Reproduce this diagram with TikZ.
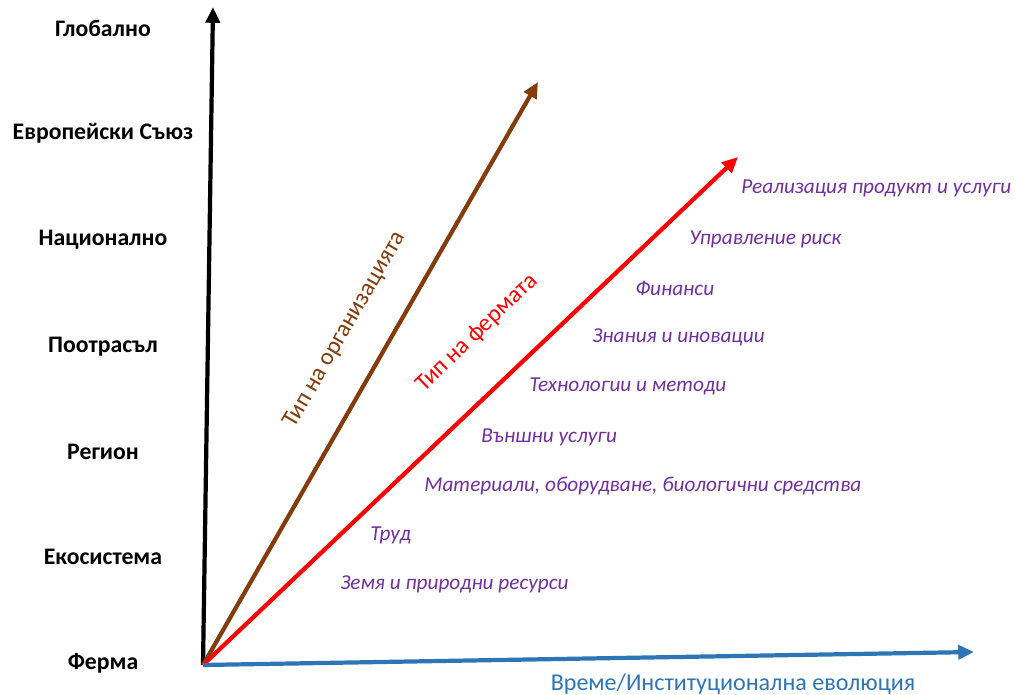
\documentclass[tikz,border=0pt]{standalone}
\usepackage{fontspec}
\setmainfont{Carlito}
\usetikzlibrary{arrows.meta}

\definecolor{brownarrow}{RGB}{132,60,12}
\definecolor{bluearrow}{RGB}{46,117,182}
\definecolor{purpletext}{RGB}{112,48,160}

\begin{document}
\begin{tikzpicture}[x=0.02cm,y=-0.02cm,>={Triangle[length=9pt,width=8pt]},
      axis/.style={->,line width=2.4pt},
      level/.style={font=\fontsize{13.5}{15}\selectfont\bfseries},
      factor/.style={anchor=west,text=purpletext,inner sep=0pt,
        font=\fontsize{12.1}{14}\selectfont\itshape},
      axislabel/.style={inner sep=0pt,font=\fontsize{13.7}{15}\selectfont}]

      \useasboundingbox (0,0) rectangle (1014,695);

      \coordinate (O) at (203,665);
      \coordinate (tblack) at (213,7);
      \coordinate (tbrown) at (538,82);
      \coordinate (tred) at (738,157);
      \coordinate (tblue) at (974,652);

      \node[level] (global) at (103, 28) {Глобално};
      \node[level] (eu)     at (103,133) {Европейски Съюз};
      \node[level] (nat)    at (103,240) {Национално};
      \node[level] (sub)    at (103,347) {Поотрасъл};
      \node[level] (reg)    at (103,452) {Регион};
      \node[level] (eco)    at (103,557) {Екосистема};
      \node[level] (farm)   at (103,663) {Ферма};

      \draw[axis,black]      (O) -- (tblack);
      \draw[axis,brownarrow] (O) -- (tbrown);
      \draw[axis,red]        (O) -- (tred);
      \draw[axis,bluearrow]  (O) -- (tblue);

      \node[axislabel,text=brownarrow,rotate=60] (org) at (345,330)
      {Тип на организацията};
      \node[axislabel,text=red,rotate=44] (ftype) at (477,333)
      {Тип на фермата};
      \node[axislabel,text=bluearrow] (time) at (733,684)
      {Време/Институционална еволюция};

      \node[factor] (f9) at (741,188) {Реализация продукт и услуги};
      \node[factor] (f8) at (689,239) {Управление риск};
      \node[factor] (f7) at (635,288) {Финанси};
      \node[factor] (f6) at (592,337) {Знания и иновации};
      \node[factor] (f5) at (529,386) {Технологии и методи};
      \node[factor] (f4) at (481,437) {Външни услуги};
      \node[factor] (f3) at (424,486) {Материали, оборудване, биологични средства};
      \node[factor] (f2) at (370,535) {Труд};
      \node[factor] (f1) at (340,584) {Земя и природни ресурси};
    \end{tikzpicture}
\end{document}
